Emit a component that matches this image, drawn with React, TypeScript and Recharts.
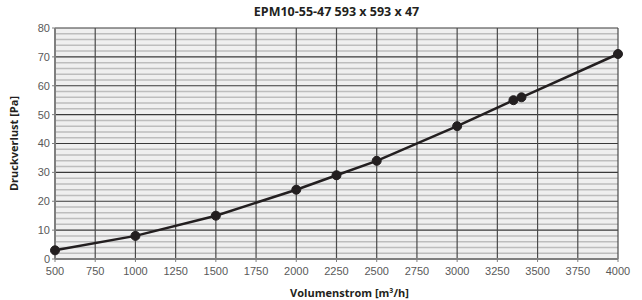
import React from 'react';
import {
  LineChart,
  Line,
  XAxis,
  YAxis,
  CartesianGrid,
  ReferenceLine,
  Label,
} from 'recharts';

const flow = [500, 1000, 1500, 2000, 2250, 2500, 3000, 3350, 3400, 4000];
const pressure = [3, 8, 15, 24, 29, 34, 46, 55, 56, 71];

const xTicks = [500, 750, 1000, 1250, 1500, 1750, 2000, 2250, 2500, 2750, 3000, 3250, 3500, 3750, 4000];
const yTicks = [0, 10, 20, 30, 40, 50, 60, 70, 80];
const yMinorTicks = [
  2, 4, 6, 8, 12, 14, 16, 18, 22, 24, 26, 28, 32, 34, 36, 38,
  42, 44, 46, 48, 52, 54, 56, 58, 62, 64, 66, 68, 72, 74, 76, 78,
];

const data = flow.map((x, i) => ({ x, y: pressure[i] }));

const tickStyle = { fontSize: 11, fill: '#595959', fontFamily: 'Liberation Sans, Arial, sans-serif' };
const titleFont = 'Open Sans, sans-serif';

export default function App() {
  return (
    <div style={{ position: 'absolute', left: 0, top: 0, width: 642, height: 300, background: '#fff' }}>
      <div
        style={{
          position: 'absolute',
          top: 3,
          left: 55,
          width: 563,
          textAlign: 'center',
          fontFamily: titleFont,
          fontWeight: 700,
          fontSize: 12.5,
          color: '#231f20',
        }}
      >
        EPM10-55-47 593 x 593 x 47
      </div>
      <LineChart width={642} height={300} data={data} margin={{ top: 28, right: 24, bottom: 0, left: 0 }}>
        <CartesianGrid horizontal={false} vertical={false} fill="#efefef" fillOpacity={1} />
        {yMinorTicks.map((v) => (
          <ReferenceLine key={`m${v}`} y={v} stroke="#bdbdbd" strokeWidth={1.5} />
        ))}
        {yTicks.slice(1).map((v) => (
          <ReferenceLine key={`y${v}`} y={v} stroke="#3a3a3a" strokeWidth={1.2} />
        ))}
        {xTicks.slice(1).map((v) => (
          <ReferenceLine key={`x${v}`} x={v} stroke="#4a4a4a" strokeWidth={1.2} />
        ))}
        <XAxis
          dataKey="x"
          type="number"
          domain={[500, 4000]}
          ticks={xTicks}
          interval={0}
          height={41}
          tick={tickStyle}
          tickSize={3}
          dy={3}
          tickLine={{ stroke: '#7f7f7f' }}
          axisLine={{ stroke: '#7f7f7f', strokeWidth: 2 }}
        >
          <Label
            value="Volumenstrom [m³/h]"
            position="insideBottom"
            offset={3}
            dx={13}
            style={{ fontFamily: titleFont, fontWeight: 700, fontSize: 11, fill: '#231f20' }}
          />
        </XAxis>
        <YAxis
          domain={[0, 80]}
          ticks={yTicks}
          interval={0}
          width={55}
          tick={tickStyle}
          tickSize={3}
          tickLine={{ stroke: '#7f7f7f' }}
          axisLine={{ stroke: '#7f7f7f', strokeWidth: 2 }}
        >
          <Label
            value="Druckverlust  [Pa]"
            angle={-90}
            position="insideLeft"
            offset={14}
            style={{ textAnchor: 'middle', fontFamily: titleFont, fontWeight: 700, fontSize: 11, fill: '#231f20' }}
          />
        </YAxis>
        <Line
          type="linear"
          dataKey="y"
          stroke="#231f20"
          strokeWidth={2.5}
          dot={{ r: 4.5, fill: '#231f20', stroke: '#231f20', strokeWidth: 1 }}
          isAnimationActive={false}
        />
      </LineChart>
    </div>
  );
}
